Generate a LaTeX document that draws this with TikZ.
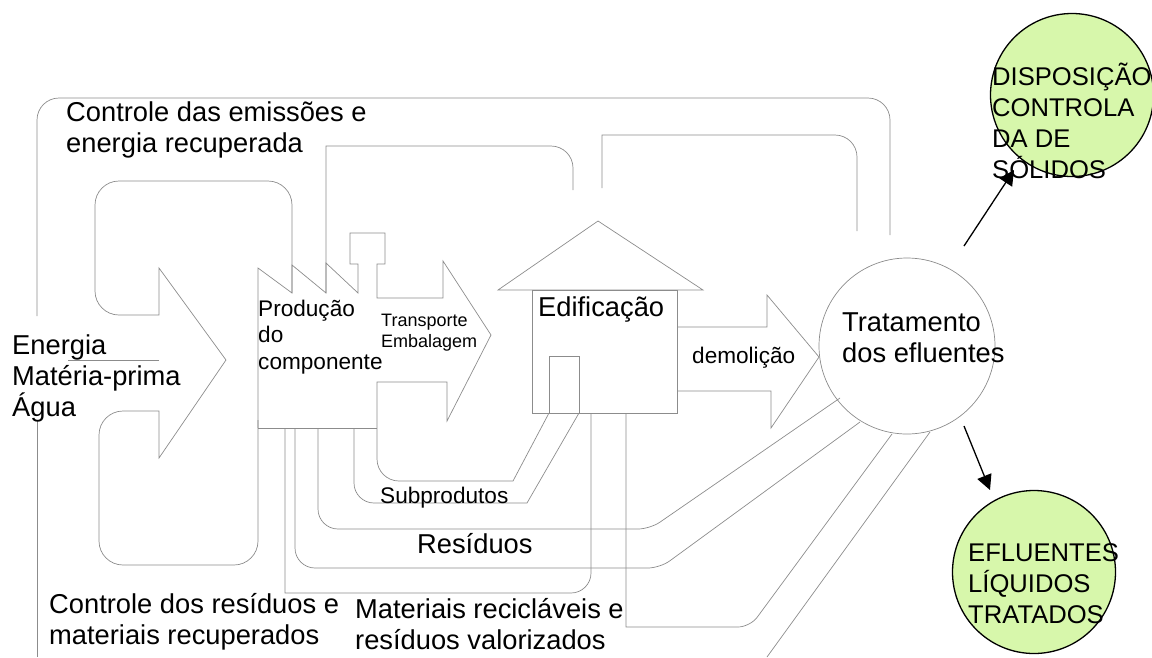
\documentclass[tikz,border=0pt]{standalone}
\usepackage{fontspec}
\setmainfont{Liberation Sans}
\usepackage{xcolor}
\usetikzlibrary{arrows.meta,positioning,calc}
\definecolor{discgreen}{HTML}{D7F7AB}

\begin{document}
\begin{tikzpicture}[x=1pt, y=-1pt,
    wire/.style={draw=black!45, line width=0.7pt},
    big/.style={inner sep=0pt, anchor=north west, align=left, font=\fontsize{27.3}{31}\selectfont},
    mid/.style={big, font=\fontsize{22.6}{26.3}\selectfont},
    small/.style={big, font=\fontsize{18}{21}\selectfont},
    caps/.style={big, font=\fontsize{25.6}{31}\selectfont},
    disc/.style={circle, draw=black, line width=1.3pt, fill=discgreen, minimum size=163pt, inner sep=0pt},
    flow/.style={draw=black, line width=1.3pt, -{Triangle[length=15pt,width=15pt]}}]
    \clip (0,0) rectangle (1152,657);

    % ciclos de controle
    \draw [wire, rounded corners=22pt] (37,316) -- (37,98) -- (890,98) -- (890,235);
    \draw [wire] (37,421) -- (37,657);
    \draw [wire, rounded corners=22pt] (326,293) [sharp corners] -- (326,146) [rounded corners=22pt] -- (573,146) -- (573,190);
    \draw [wire, rounded corners=22pt] (602,188) [sharp corners] -- (602,135) [rounded corners=22pt] -- (857,135) -- (857,231);

    % producao, com a seta de entrada e a seta de transporte
    \draw [wire] (159,360) -- (68,360);
    \draw [wire] (258,428) -- (258,268) -- (292,293) -- (292,265) -- (326,293) -- (326,263) -- (358,293) -- (358,264)
        -- (350,264) -- (350,233) -- (385,233) -- (385,264) -- (377,264) -- (377,298) -- (443,298) -- (443,261)
        -- (491,335) -- (447,421) -- (447,382) -- (377,382) [rounded corners=22pt] -- (377,481) [sharp corners] -- (513,481) -- (549,413);
    \draw [wire] (258,428) -- (377,428);
    \draw [wire, rounded corners=24pt] (292,293) -- (292,181) -- (95,181) -- (95,315) [sharp corners] -- (159,315) -- (159,268)
        -- (226,360) -- (159,458) -- (159,411) [rounded corners=24pt] -- (99,411) -- (99,565) -- (258,565) -- (258,420);

    % saidas da producao
    \draw [wire, rounded corners=20pt] (354,428) -- (354,503) [sharp corners] -- (527,503) -- (579,413);
    \draw [wire, rounded corners=20pt] (318,428) -- (318,529) [rounded corners=12pt] -- (650,529) -- (840,398);
    \draw [wire, rounded corners=20pt] (295,428) -- (295,568) [rounded corners=12pt] -- (660,568) -- (860,422);
    \draw [wire, rounded corners=20pt] (285,428) [sharp corners] -- (285,593) [rounded corners=20pt] -- (591,593) -- (591,413);
    \draw [wire, rounded corners=12pt] (626,413) [sharp corners] -- (626,627) [rounded corners=12pt] -- (750,627) -- (892,434);
    \draw [wire] (930,432) -- (767,657);

    % edificacao
    \draw [wire] (498,290) -- (598,221) -- (703,290) -- cycle;
    \draw [wire] (532,290) rectangle (677,413);
    \draw [wire] (549,413) -- (549,356) -- (579,356) -- (579,413);
    \draw [wire] (677,327) -- (767,327) -- (767,295) -- (819,357) -- (771,428) -- (771,391) -- (677,391);

    \node (trat) [wire, circle, minimum size=176pt, inner sep=0pt] at (907,346) {};
    \node (disposicao) [disc] at (1072,95) {};
    \node (efluentes) [disc] at (1034,572) {};

    \coordinate (solidosfrom) at (964,246);
    \coordinate (solidosto) at (1014,170);
    \coordinate (liquidosfrom) at (964,426);
    \coordinate (liquidosto) at (990,490);
    \draw [flow] (solidosfrom) -- (solidosto);
    \draw [flow] (liquidosfrom) -- (liquidosto);

    \node (emissoes) [big] at (66,102) {Controle das emissões e\\energia recuperada};
    \node (entrada) [big] at (12,335) {Energia\\Matéria-prima\\Água};
    \node (producao) [mid] at (258,300) {Produção\\do\\componente};
    \node (transporte) [small] at (381,314) {Transporte\\Embalagem};
    \node (edif) [big] at (538,297) {Edificação};
    \node (demolicao) [mid] at (692,347) {demolição};
    \node (tratlabel) [big] at (842,313) {Tratamento\\dos efluentes};
    \node (subprodutos) [mid] at (380,487) {Subprodutos};
    \node (residuos) [big] at (417,533) {Resíduos};
    \node (recuperados) [big] at (49,593) {Controle dos resíduos e\\materiais recuperados};
    \node (reciclaveis) [big] at (355,598) {Materiais recicláveis e\\resíduos valorizados};
    \node (disposicaolabel) [caps] at (992,63) {DISPOSIÇÃO\\CONTROLA\\DA DE\\SÓLIDOS};
    \node (efluenteslabel) [caps] at (968,543) {EFLUENTES\\LÍQUIDOS\\TRATADOS};
\end{tikzpicture}
\end{document}
